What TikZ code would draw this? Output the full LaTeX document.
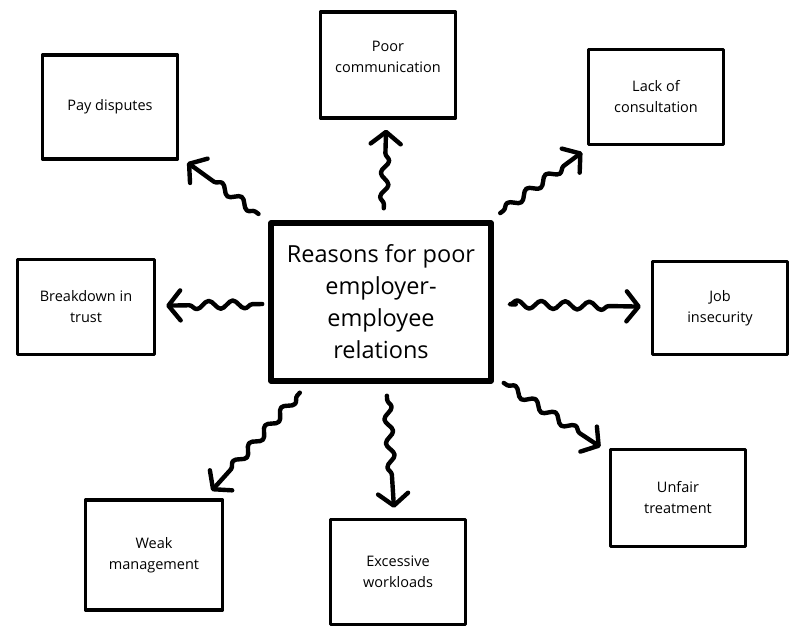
\documentclass[tikz,border=0pt]{standalone}
\usepackage{fontspec}
\setmainfont{Open Sans}
\usetikzlibrary{arrows.meta}
\usetikzlibrary{decorations.pathmorphing}
\usetikzlibrary{positioning}

\begin{document}
\begin{tikzpicture}[x=1pt,y=-1pt,line cap=round,line join=round]
  \tikzstyle{reason}=[draw=black, line width=3.4pt, fill=white, text=black, align=center, inner sep=0pt, minimum width=135pt, minimum height=100pt, font=\fontsize{14.5}{21}\selectfont]
  \tikzstyle{wiggle}=[line width=4.4pt, -{Straight Barb[length=12pt,width=30pt,round]}, decorate, decoration={snake, amplitude=4pt, segment length=24pt, pre length=16pt, post length=32pt}, shorten <=12pt, shorten >=10pt]
  \useasboundingbox (0,0) rectangle (803,633);

  \node[reason, line width=5.5pt, minimum width=220pt, minimum height=158pt, font=\fontsize{23.5}{32}\selectfont] (R) at (381,302) {Reasons for poor\\employer-\\employee\\relations};

  \node[reason, minimum height=106pt, text depth=16pt] (comm) at (388,65) {Poor\\communication};
  \node[reason, minimum height=104pt] (pay) at (110,107) {Pay disputes};
  \node[reason, minimum height=95pt] (lack) at (656,97) {Lack of\\consultation};
  \node[reason, minimum width=137pt, minimum height=95pt] (trust) at (86,307) {Breakdown in\\trust};
  \node[reason, minimum height=93pt] (job) at (720,308) {Job\\insecurity};
  \node[reason, minimum width=137pt, minimum height=110pt] (weak) at (154,555) {Weak\\management};
  \node[reason, minimum height=105pt] (work) at (398,572) {Excessive\\workloads};
  \node[reason, minimum height=97pt] (unfair) at (678,498) {Unfair\\treatment};

  \path
    (R) edge[wiggle] (pay)
    (R) edge[wiggle] (comm)
    (R) edge[wiggle] (lack)
    (R) edge[wiggle, shorten <=6pt] (trust)
    (R) edge[wiggle, shorten <=22pt] (job)
    (R) edge[wiggle] (weak)
    (R) edge[wiggle] (work)
    (R) edge[wiggle] (unfair);
\end{tikzpicture}
\end{document}
